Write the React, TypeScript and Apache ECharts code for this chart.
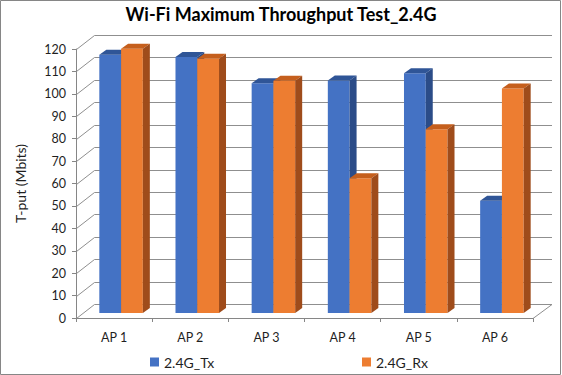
import React, { useEffect, useRef } from "react";
import * as echarts from "echarts";

const categories = ["AP 1", "AP 2", "AP 3", "AP 4", "AP 5", "AP 6"];
const txValues = [115.2, 114.2, 102.5, 103.7, 107.0, 50.1];
const rxValues = [117.9, 113.4, 103.6, 60.1, 82.0, 100.1];
const yTicks = [0, 10, 20, 30, 40, 50, 60, 70, 80, 90, 100, 110, 120];
const seriesNames = ["2.4G_Tx", "2.4G_Rx"];
const titleText = "Wi-Fi Maximum Throughput Test_2.4G";
const yAxisName = "T-put (Mbits)";

const FONT = "Lato, 'Noto Sans', sans-serif";
const GRID_COLOR = "#8f8f8f";
const AXIS_COLOR = "#868686";
const TEXT_COLOR = "#1f1f1f";

const BACK_DX = 18;
const BACK_DY = -14;
const BAR_SHIFT_X = 7;
const BAR_SHIFT_Y = -5;
const BAR_DEPTH_X = 7;
const BAR_DEPTH_Y = -5;

const TX_COLORS = { front: "#4472C4", top: "#2F5597", side: "#2B4C88" };
const RX_COLORS = { front: "#ED7D31", top: "#C55F1D", side: "#9F4C1B" };

function makeBarRender(slot: number, colors: { front: string; top: string; side: string }) {
  return (params: any, api: any) => {
    const idx = api.value(0);
    const v = api.value(1);
    const top = api.coord([idx, v]);
    const base = api.coord([idx, 0]);
    const catW = api.size([1, 0])[0];
    const barW = catW / 3.5;
    const x1 = top[0] - barW + slot * barW + BAR_SHIFT_X;
    const x2 = x1 + barW;
    const yt = top[1] + BAR_SHIFT_Y;
    const yb = base[1] + BAR_SHIFT_Y;
    return {
      type: "group",
      children: [
        {
          type: "rect",
          shape: { x: x1, y: yt, width: barW, height: yb - yt },
          style: { fill: colors.front },
        },
        {
          type: "polygon",
          shape: {
            points: [
              [x1, yt],
              [x1 + BAR_DEPTH_X, yt + BAR_DEPTH_Y],
              [x2 + BAR_DEPTH_X, yt + BAR_DEPTH_Y],
              [x2, yt],
            ],
          },
          style: { fill: colors.top },
        },
        {
          type: "polygon",
          shape: {
            points: [
              [x2, yt],
              [x2 + BAR_DEPTH_X, yt + BAR_DEPTH_Y],
              [x2 + BAR_DEPTH_X, yb + BAR_DEPTH_Y],
              [x2, yb],
            ],
          },
          style: { fill: colors.side },
        },
      ],
    };
  };
}

function renderGrid(params: any, api: any) {
  const cs = params.coordSys;
  const y = Math.round(api.coord([0, api.value(1)])[1]) + 0.5;
  const x0 = cs.x + 0.5;
  const xr = cs.x + cs.width;
  const style = { stroke: GRID_COLOR, lineWidth: 1, fill: "none" };
  const children: any[] = [
    { type: "line", shape: { x1: x0, y1: y, x2: x0 + BACK_DX, y2: y + BACK_DY }, style },
    {
      type: "line",
      shape: { x1: x0 + BACK_DX, y1: y + BACK_DY, x2: xr + BACK_DX + 1, y2: y + BACK_DY },
      style,
    },
  ];
  if (api.value(1) === 0) {
    children.push({
      type: "line",
      shape: { x1: xr, y1: y, x2: xr + BACK_DX + 1, y2: y + BACK_DY },
      style,
    });
  }
  return { type: "group", children };
}

export default function App() {
  const ref = useRef<HTMLDivElement>(null);
  useEffect(() => {
    document.body.style.margin = "0";
    if (!ref.current) return;
    const chart = echarts.init(ref.current, undefined, { renderer: "svg" });
    const legendBase = {
      top: 350,
      itemWidth: 9,
      itemHeight: 9,
      icon: "rect",
      textStyle: { fontFamily: FONT, fontSize: 14, color: TEXT_COLOR },
    };
    chart.setOption({
      animation: false,
      backgroundColor: "#ffffff",
      title: {
        text: titleText,
        left: "center",
        top: 0,
        textStyle: { fontFamily: FONT, fontSize: 18, fontWeight: "bold", color: "#000" },
      },
      legend: [
        { ...legendBase, left: 145, data: [seriesNames[0]] },
        { ...legendBase, left: 357, data: [seriesNames[1]] },
      ],
      grid: { left: 76, right: 29, top: 49, bottom: 57 },
      xAxis: {
        type: "category",
        data: categories,
        boundaryGap: true,
        axisLine: { show: true, lineStyle: { color: AXIS_COLOR } },
        axisTick: { show: true, length: 4, lineStyle: { color: AXIS_COLOR } },
        axisLabel: { margin: 13, fontFamily: FONT, fontSize: 12.5, color: TEXT_COLOR },
        splitLine: { show: false },
      },
      yAxis: {
        type: "value",
        min: 0,
        max: 120,
        interval: 10,
        name: yAxisName,
        nameLocation: "middle",
        nameRotate: 90,
        nameGap: 49,
        nameTextStyle: { fontFamily: FONT, fontSize: 14, color: TEXT_COLOR },
        axisLine: { show: true, lineStyle: { color: AXIS_COLOR } },
        axisTick: { show: true, length: 4, lineStyle: { color: AXIS_COLOR } },
        axisLabel: { margin: 10, fontFamily: FONT, fontSize: 12.5, color: TEXT_COLOR },
        splitLine: { show: false },
      },
      graphic: [
        {
          type: "rect",
          silent: true,
          z: -1,
          shape: { x: 0.5, y: 0.5, width: 560, height: 374 },
          style: { fill: "none", stroke: AXIS_COLOR, lineWidth: 1 },
        },
      ],
      series: [
        {
          type: "custom",
          name: "grid3d",
          silent: true,
          z: 1,
          data: yTicks.map((v) => [0, v]),
          encode: { x: 0, y: 1 },
          renderItem: renderGrid,
        },
        {
          type: "custom",
          name: seriesNames[0],
          z: 2,
          itemStyle: { color: TX_COLORS.front },
          data: txValues.map((v, i) => [i, v]),
          encode: { x: 0, y: 1 },
          renderItem: makeBarRender(0, TX_COLORS),
        },
        {
          type: "custom",
          name: seriesNames[1],
          z: 3,
          itemStyle: { color: RX_COLORS.front },
          data: rxValues.map((v, i) => [i, v]),
          encode: { x: 0, y: 1 },
          renderItem: makeBarRender(1, RX_COLORS),
        },
      ],
    });
    return () => chart.dispose();
  }, []);
  return <div ref={ref} style={{ width: 562, height: 375 }} />;
}
